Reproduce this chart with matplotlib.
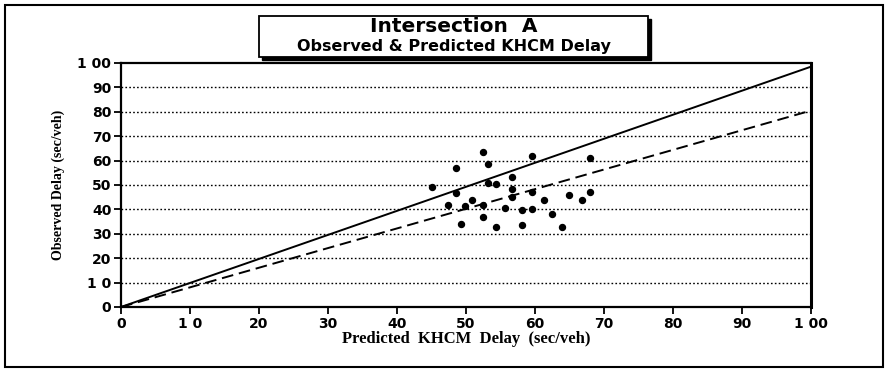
import matplotlib
matplotlib.use("Agg")
import matplotlib.pyplot as plt
from matplotlib.patches import Rectangle

# ---- data ----
predicted = [45.1, 47.4, 48.5, 48.5, 49.3, 49.9, 50.8, 52.5, 52.5, 52.5,
             53.2, 53.2, 54.4, 54.4, 55.7, 56.6, 56.6, 56.6, 58.1, 58.1,
             59.5, 59.5, 59.5, 61.3, 62.4, 63.9, 65.0, 66.8, 68.0, 68.0]
observed = [49.0, 41.8, 57.0, 46.6, 33.9, 41.4, 44.0, 63.4, 41.8, 36.7,
            58.6, 50.7, 50.4, 32.9, 40.7, 53.4, 48.2, 45.2, 39.6, 33.6,
            62.0, 47.2, 40.2, 43.8, 38.0, 32.9, 45.9, 43.9, 47.0, 60.9]
line_x = [0, 100]
solid_y = [0, 98.5]
dashed_y = [0, 80.5]
x_ticks = [0, 10, 20, 30, 40, 50, 60, 70, 80, 90, 100]
y_ticks = [0, 10, 20, 30, 40, 50, 60, 70, 80, 90, 100]
x_tick_labels = ["0", "1 0", "20", "30", "40", "50", "60", "70", "80", "90", "1 00"]
y_tick_labels = ["0", "1 0", "20", "30", "40", "50", "60", "70", "80", "90", "1 00"]
title1 = "Intersection  A"
title2 = "Observed & Predicted KHCM Delay"
xlabel = "Predicted  KHCM  Delay  (sec/veh)"
ylabel = "Observed Delay (sec/veh)"

W, H = 887, 371
fig = plt.figure(figsize=(W / 100, H / 100), dpi=100)
fig.patch.set_facecolor("white")

ax = fig.add_axes([121 / W, 1 - 307 / H, (811 - 121) / W, (307 - 63) / H])
ax.set_xlim(0, 100)
ax.set_ylim(0, 100)

# gridlines
for yv in y_ticks[1:-1]:
    ax.axhline(yv, color="black", lw=1.0, ls=(0, (1.2, 1.6)), zorder=1)

ax.plot(line_x, solid_y, color="black", lw=1.4, zorder=3)
ax.plot(line_x, dashed_y, color="black", lw=1.4, ls=(0, (6, 3)), zorder=3)
ax.plot(predicted, observed, ls="none", marker="o", markersize=4.3,
        markerfacecolor="black", markeredgecolor="black", zorder=4)

ax.set_xticks(x_ticks)
ax.set_yticks(y_ticks)
ax.set_xticklabels(x_tick_labels, fontsize=10, fontweight="bold", family="DejaVu Sans")
ax.set_yticklabels(y_tick_labels, fontsize=10, fontweight="bold", family="DejaVu Sans")
ax.tick_params(axis="both", direction="out", length=5, width=1.3, pad=2, color="black")

for side in ["left", "bottom", "top"]:
    ax.spines[side].set_linewidth(1.6)
ax.spines["right"].set_linewidth(2.2)

ax.set_xlabel(xlabel, fontsize=12, fontweight="bold", family="Liberation Serif", labelpad=0)
ax.set_ylabel(ylabel, fontsize=10, fontweight="bold", family="Liberation Serif", labelpad=9)

# title box with shadow
bx0, by0, bx1, by1 = 259, 16, 648, 57
fig.patches.append(Rectangle((bx0 / W + 3 / W, 1 - (by1 + 3) / H), (bx1 - bx0) / W, (by1 - by0) / H,
                             transform=fig.transFigure, facecolor="black", edgecolor="black", zorder=5))
fig.patches.append(Rectangle((bx0 / W, 1 - by1 / H), (bx1 - bx0) / W, (by1 - by0) / H,
                             transform=fig.transFigure, facecolor="white", edgecolor="black",
                             lw=1.3, zorder=6))
fig.text((bx0 + bx1) / 2 / W, 1 - 27 / H, title1, ha="center", va="center",
         fontsize=14.5, fontweight="bold", family="DejaVu Sans", zorder=7)
fig.text((bx0 + bx1) / 2 / W, 1 - 46.5 / H, title2, ha="center", va="center",
         fontsize=11.5, fontweight="bold", family="DejaVu Sans", zorder=7)

# outer border
fig.patches.append(Rectangle((5 / W, 1 - 367 / H), 878 / W, 362 / H, transform=fig.transFigure,
                             facecolor="none", edgecolor="black", lw=1.5, zorder=0))

fig.savefig("out.png", dpi=100)
